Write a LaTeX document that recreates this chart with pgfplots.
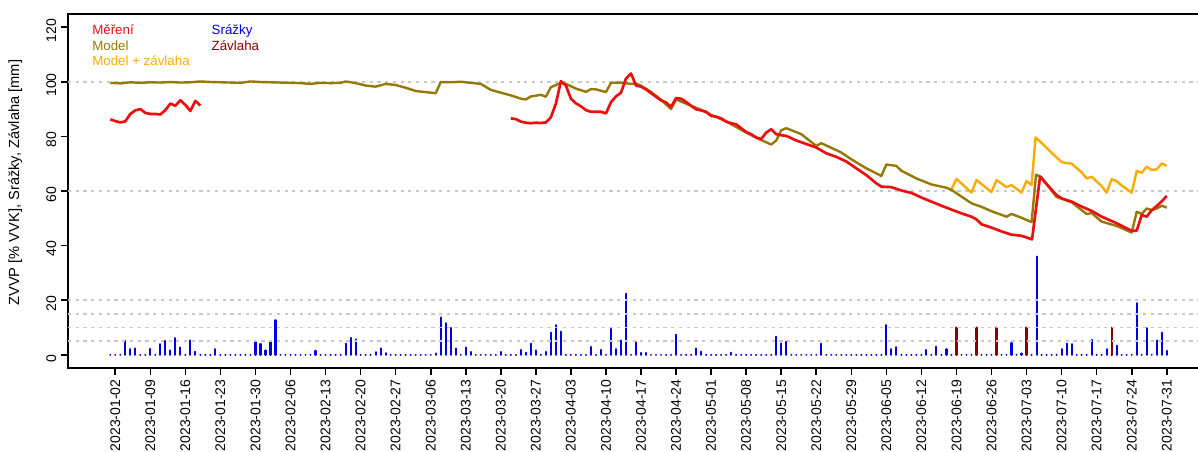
\documentclass[border=0pt]{standalone}
\usepackage{pgfplots}
\pgfplotsset{compat=1.18}
\usepackage{fontspec}
\setmainfont{Liberation Sans}

\definecolor{mereni}{RGB}{235,15,15}
\definecolor{model}{RGB}{150,120,5}
\definecolor{modelzav}{RGB}{255,170,0}
\definecolor{srazky}{RGB}{0,0,230}
\definecolor{zavlaha}{RGB}{139,0,0}
\definecolor{gridgray}{RGB}{200,200,200}

\newcommand{\lblfont}{\fontsize{10}{12}\selectfont}
\newcommand{\xtickfont}{\fontsize{10.5}{12}\selectfont}
\newcommand{\titlefont}{\fontsize{11}{13}\selectfont}

\begin{document}
\begin{tikzpicture}
\begin{axis}[
  scale only axis,
  width=855.75pt, height=265.5pt,
  xmin=-8.44, xmax=219.44,
  ymin=-4.8, ymax=124.8,
  clip=false,
  axis line style={line width=1.6pt},
  tick align=outside,
  xtick pos=left, ytick pos=left,
  major tick length=5.25pt,
  tick style={black, line width=1.2pt},
  ytick={0,20,...,120},
  xtick={1,8,...,211},
  xticklabels={2023-01-02,2023-01-09,2023-01-16,2023-01-23,2023-01-30,
    2023-02-06,2023-02-13,2023-02-20,2023-02-27,2023-03-06,2023-03-13,
    2023-03-20,2023-03-27,2023-04-03,2023-04-10,2023-04-17,2023-04-24,
    2023-05-01,2023-05-08,2023-05-15,2023-05-22,2023-05-29,2023-06-05,
    2023-06-12,2023-06-19,2023-06-26,2023-07-03,2023-07-10,2023-07-17,
    2023-07-24,2023-07-31},
  xticklabel style={rotate=90, anchor=east, font=\xtickfont},
  yticklabel style={rotate=90, anchor=south, font=\xtickfont, xshift=-2.5pt},
  /pgf/number format/assume math mode=true,
]

% daily precipitation (mm)
\addplot[ycomb, srazky, line width=1.6pt, line cap=round, mark=none] coordinates {
(0,0)(1,0)(2,0)(3,5.2)(4,2.1)(5,2.4)(6,0)(7,0)(8,2.2)(9,0)
(10,3.9)(11,5.1)(12,1.6)(13,6.1)(14,2.7)(15,0)(16,5.3)(17,1.2)(18,0)(19,0)
(20,0)(21,2.1)(22,0)(23,0)(24,0)(25,0)(26,0)(27,0)(28,0)(29,5.0)
(30,4.0)(31,1.6)(32,5.0)(33,12.7)(34,0)(35,0)(36,0)(37,0)(38,0)(39,0)
(40,0)(41,1.5)(42,0)(43,0)(44,0)(45,0)(46,0)(47,4.1)(48,6.2)(49,5.7)
(50,0)(51,0)(52,0)(53,1.0)(54,2.4)(55,0.6)(56,0)(57,0)(58,0)(59,0)
(60,0)(61,0)(62,0)(63,0)(64,0)(65,0.5)(66,13.7)(67,11.6)(68,9.9)(69,2.4)
(70,0)(71,2.7)(72,1.1)(73,0)(74,0)(75,0)(76,0)(77,0)(78,1.1)(79,0)
(80,0)(81,0)(82,1.8)(83,0.8)(84,4.1)(85,1.6)(86,0)(87,1.1)(88,8.1)(89,10.9)
(90,8.5)(91,0)(92,0)(93,0)(94,0)(95,0)(96,2.9)(97,0)(98,1.8)(99,0)
(100,9.5)(101,2.1)(102,5.3)(103,22.4)(104,0)(105,4.7)(106,0.7)(107,0.7)(108,0)(109,0)
(110,0)(111,0)(112,0)(113,7.4)(114,0)(115,0)(116,0)(117,2.4)(118,1.2)(119,0)
(120,0)(121,0)(122,0)(123,0)(124,0.8)(125,0)(126,0)(127,0)(128,0)(129,0)
(130,0)(131,0)(132,0)(133,6.7)(134,4.2)(135,4.8)(136,0)(137,0)(138,0)(139,0)
(140,0)(141,0)(142,4.1)(143,0)(144,0)(145,0)(146,0)(147,0)(148,0)(149,0)
(150,0)(151,0)(152,0)(153,0)(154,0)(155,10.9)(156,2.1)(157,2.8)(158,0)(159,0)
(160,0)(161,0)(162,0)(163,1.8)(164,0)(165,3.0)(166,0)(167,2.1)(168,0)(169,0)
(170,0)(171,0)(172,0)(173,0)(174,0)(175,0)(176,0)(177,0)(178,0)(179,0)
(180,4.4)(181,0)(182,0.5)(183,0)(184,0)(185,36.0)(186,0)(187,0)(188,0)(189,0)
(190,2.1)(191,4.1)(192,3.9)(193,0)(194,0)(195,0)(196,5.5)(197,0)(198,0)(199,2.1)
(200,0)(201,3.4)(202,0)(203,0)(204,0)(205,18.9)(206,0)(207,9.8)(208,0)(209,5.3)
(210,8.1)(211,1.5)
};

% irrigation doses (mm)
\addplot[ycomb, zavlaha, line width=1.6pt, line cap=round, mark=none] coordinates {
(169,10)(173,10)(177,10)(183,10)(200,10)
};

% reference levels
\pgfplotsinvokeforeach{5,10,15,20,60,100}{
  \draw[gridgray, line width=1.3pt, dash pattern=on 2.4pt off 3.4pt]
    (axis cs:-8.44,#1) -- (axis cs:219.44,#1);
}

% model with irrigation
\addplot[modelzav, line width=1.8pt, line join=round, mark=none] coordinates {
(168,60.5)(169,64.4)(172,59.4)(173,64.0)(176,59.6)(177,64.0)(179,61.4)(180,62.2)
(182,59.4)(183,63.7)(184,62.2)(184.8,79.6)(186,77.6)(188,74.0)(190,70.6)(191,70.2)
(192,70.0)(194,66.8)(195,64.6)(196,65.2)(198,61.8)(199,59.4)(200,64.3)(201,63.6)
(202,62.0)(204,59.4)(205,67.3)(206,66.7)(207,68.9)(208,67.7)(209,67.9)(210,70.1)
(211,69.2)
};

% model
\addplot[model, line width=1.8pt, line join=round, mark=none] coordinates {
(0,99.6)(2,99.4)(4,99.8)(6,99.6)(8,99.8)(10,99.7)(12,99.9)(14,99.7)(16,99.8)
(18,100.1)(20,99.9)(22,99.8)(24,99.7)(26,99.6)(28,100.1)(30,99.9)(32,99.8)
(34,99.7)(36,99.6)(38,99.5)(40,99.2)(42,99.6)(44,99.5)(46,99.6)(47,100.1)
(49,99.5)(51,98.6)(53,98.2)(55,99.2)(57,98.8)(59,97.8)(61,96.6)(63,96.2)
(65,95.8)(66,99.9)(68,99.8)(70,100.0)(72,99.6)(74,99.2)(76,97.0)(78,96.0)
(80,95.0)(82,93.8)(83,93.5)(84,94.6)(86,95.2)(87,94.5)(88,98.0)(90,99.6)
(91,99.2)(93,97.5)(95,96.3)(96,97.3)(97,97.2)(99,96.2)(100,99.6)(102,99.7)
(104,99.2)(105,99.4)(106,98.5)(108,96.3)(110,93.4)(112,90.0)(113,93.5)
(116,91.2)(118,89.7)(120,87.9)(123,85.5)(126,82.4)(129,79.5)(132,77.0)
(133,78.5)(134,82.2)(135,83.0)(138,80.8)(141,76.5)(142,77.5)(146,74.1)
(148,71.6)(151,68.3)(154,65.5)(155,69.7)(157,69.2)(158,67.4)(161,64.6)
(164,62.4)(167,61.2)(168,60.4)(172,55.5)(174,54.2)(176,52.6)(179,50.6)
(180,51.6)(182,50.2)(184,48.6)(184.9,66.0)(186,65.0)(189,57.8)(192,55.9)
(194,53.0)(195,51.6)(196,51.9)(198,48.8)(201,47.2)(204,44.8)(205,52.4)
(206,51.6)(207,53.6)(208,53.0)(209,53.6)(210,54.6)(211,53.9)
};

% measurements, winter block
\addplot[mereni, line width=2pt, line join=round, mark=none] coordinates {
(0,86.2)(1,85.6)(2,85.1)(3,85.5)(4,88.2)(5,89.5)(6,90.0)(7,88.6)(8,88.2)
(9,88.2)(10,88.0)(11,89.6)(12,92.0)(13,91.2)(14,93.2)(15,91.5)(16,89.3)
(17,93.0)(18,91.3)
};

% measurements, season block
\addplot[mereni, line width=2pt, line join=round, mark=none] coordinates {
(80,86.6)(81,86.3)(82,85.4)(83,85.0)(84,84.8)(85,85.0)(86,84.9)(87,85.1)
(88,87.0)(89,92.0)(90,100.2)(91,98.6)(92,93.8)(93,92.1)(94,91.0)(95,89.6)
(96,89.0)(97,89.0)(98,89.0)(99,88.4)(100,92.5)(101,94.6)(102,96.0)(103,101.2)
(104,103.0)(105,98.6)(106,98.2)(107,97.2)(108,95.8)(109,94.5)(110,93.2)
(111,92.4)(112,90.8)(113,94.0)(114,93.8)(115,92.6)(116,91.2)(117,89.9)
(118,89.5)(119,89.0)(120,87.5)(121,87.2)(122,86.6)(123,85.4)(124,84.8)
(125,84.4)(126,83.0)(127,81.6)(128,80.8)(129,79.6)(130,79.0)(131,81.4)
(132,82.6)(133,80.8)(134,80.4)(135,80.2)(137,78.5)(139,77.2)(141,75.9)
(143,73.8)(145,72.5)(147,70.8)(149,68.3)(151,65.8)(153,62.8)(154,61.6)
(156,61.4)(158,60.2)(160,59.3)(162,57.6)(164,56.1)(166,54.6)(168,53.2)
(170,51.8)(172,50.6)(173,49.6)(174,47.8)(176,46.6)(178,45.2)(180,44.0)
(182,43.6)(184.1,42.3)(185.7,65.3)(187,62.5)(189,58.5)(190,57.3)(192,56.1)
(194,54.3)(196,52.7)(198,50.6)(201,48.2)(204,45.4)(205,45.5)(206,51.2)
(207,50.6)(208,53.0)(209,54.5)(210,56.2)(211,58.2)
};

% series key
\node[anchor=base west, inner sep=0pt, text=mereni, font=\lblfont] at (axis cs:-3.65,117.3) {Měření};
\node[anchor=base west, inner sep=0pt, text=model, font=\lblfont] at (axis cs:-3.65,111.6) {Model};
\node[anchor=base west, inner sep=0pt, text=modelzav, font=\lblfont] at (axis cs:-3.65,105.9) {Model + závlaha};
\node[anchor=base west, inner sep=0pt, text=srazky, font=\lblfont] at (axis cs:20.2,117.3) {Srážky};
\node[anchor=base west, inner sep=0pt, text=zavlaha, font=\lblfont] at (axis cs:20.2,111.6) {Závlaha};

% y axis title
\node[rotate=90, font=\titlefont] at (axis cs:-18.97,63) {ZVVP [\% VVK], Srážky, Závlaha [mm]};
\end{axis}
\pgfresetboundingbox
\useasboundingbox (-51pt,-63pt) rectangle (847.5pt,276pt);
\end{tikzpicture}
\end{document}
